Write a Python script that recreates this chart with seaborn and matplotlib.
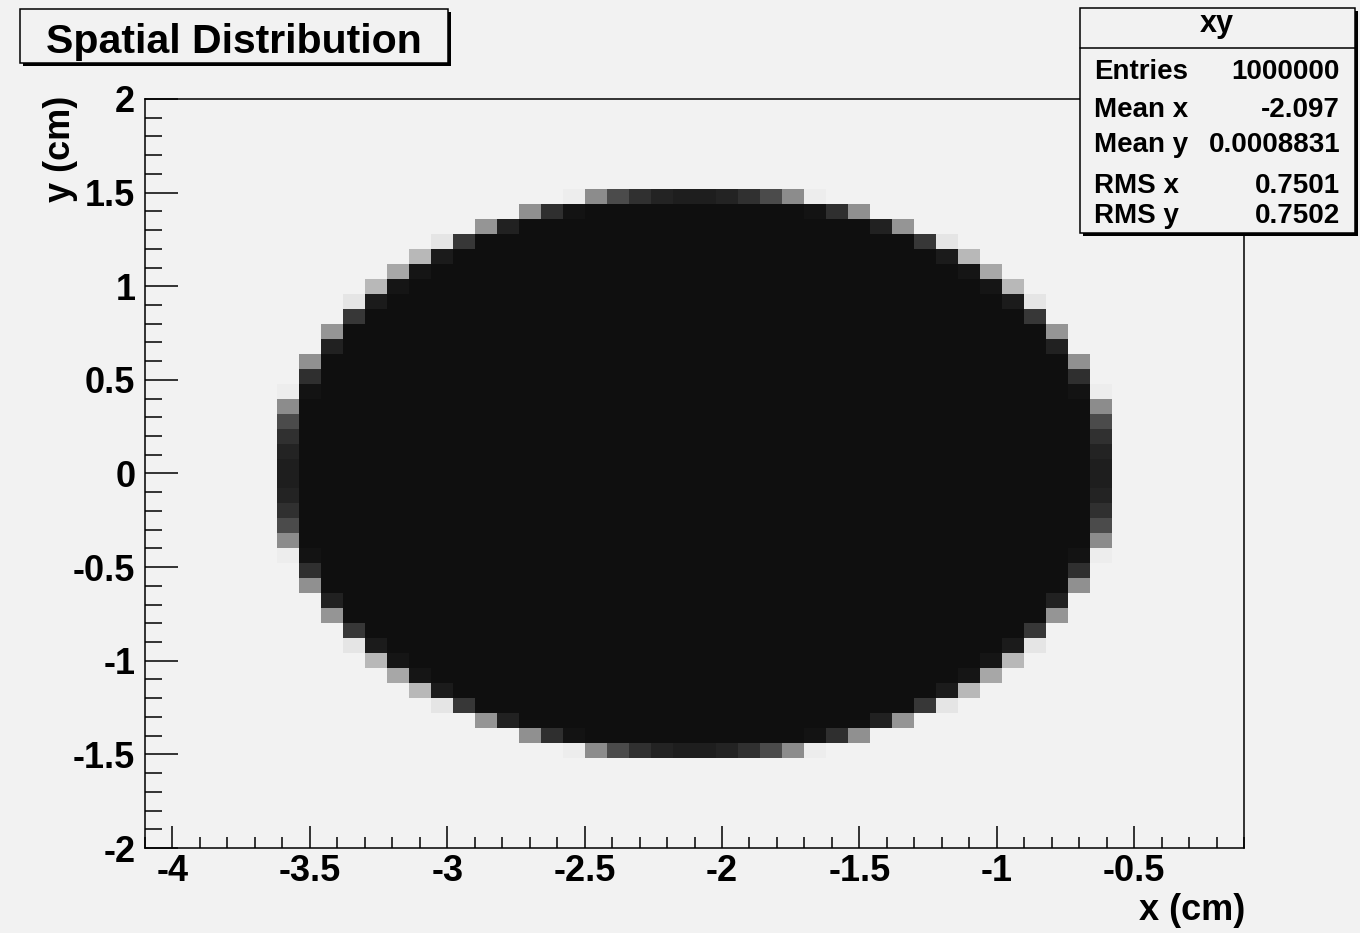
import numpy as np
import pandas as pd
import matplotlib
matplotlib.use("Agg")
import matplotlib.pyplot as plt
import seaborn as sns
from matplotlib.colors import ListedColormap
from matplotlib.patches import Rectangle
from matplotlib.lines import Line2D
from matplotlib.ticker import FixedLocator, FixedFormatter, MultipleLocator

# ---------------- data ----------------
disk_center_x = -2.1
disk_center_y = 0.0
disk_radius = 1.5
n_bins_x = 50
n_bins_y = 50
x_range = (-4.1, -0.1)
y_range = (-2.0, 2.0)

x_ticks = [-4, -3.5, -3, -2.5, -2, -1.5, -1, -0.5]
x_tick_labels = ["-4", "-3.5", "-3", "-2.5", "-2", "-1.5", "-1", "-0.5"]
y_ticks = [-2, -1.5, -1, -0.5, 0, 0.5, 1, 1.5, 2]
y_tick_labels = ["-2", "-1.5", "-1", "-0.5", "0", "0.5", "1", "1.5", "2"]

stats_title = "xy"
stat_names = ["Entries", "Mean x", "Mean y", "RMS x", "RMS y"]
stat_values = ["1000000", "-2.097", "0.0008831", "0.7501", "0.7502"]

plot_title = "Spatial Distribution"
x_label = "x (cm)"
y_label = "y (cm)"

# ---------------- bin contents: fraction of each bin covered by the disk ----------------
x_edges = np.linspace(x_range[0], x_range[1], n_bins_x + 1)
y_edges = np.linspace(y_range[0], y_range[1], n_bins_y + 1)
bw_x = x_edges[1] - x_edges[0]
bw_y = y_edges[1] - y_edges[0]
sub = 24
frac = (np.arange(sub) + 0.5) / sub
rows = []
for i in range(n_bins_x):
    xs = x_edges[i] + frac * bw_x
    for j in range(n_bins_y):
        ys = y_edges[j] + frac * bw_y
        XX, YY = np.meshgrid(xs, ys)
        inside = ((XX - disk_center_x) ** 2 + (YY - disk_center_y) ** 2) <= disk_radius ** 2
        c = inside.mean()
        if c > 0:
            rows.append((x_edges[i] + bw_x / 2, y_edges[j] + bw_y / 2, c))
df = pd.DataFrame(rows, columns=["x", "y", "w"])

# ---------------- styling ----------------
W, H = 1360, 933
BG = "#f2f2f2"
sns.set_theme(style="ticks")
plt.rcParams["font.family"] = ["Liberation Sans", "DejaVu Sans"]
plt.rcParams["font.weight"] = "bold"

def fx(px):
    return px / W

def fy(py):
    return 1 - py / H

fig = plt.figure(figsize=(W / 100, H / 100), dpi=100, facecolor=BG)
ax = fig.add_axes([fx(145), fy(848), (1244 - 145) / W, (848 - 99) / H], facecolor=BG)

# scatter-like darkness: more entries -> darker
bg_level = 0.949
v = np.linspace(0, 1, 256)
g = bg_level * np.exp(-2.8 * v)
cmap = ListedColormap(np.column_stack([g, g, g, np.ones_like(g)]))

sns.histplot(data=df, x="x", y="y", weights="w",
             bins=(n_bins_x, n_bins_y), binrange=(x_range, y_range),
             cmap=cmap, vmin=0, vmax=1, ax=ax, zorder=1)

ax.set_xlim(x_range)
ax.set_ylim(y_range)
ax.set_xlabel("")
ax.set_ylabel("")

for s in ax.spines.values():
    s.set_color("black")
    s.set_linewidth(1.1)
    s.set_visible(True)

ax.xaxis.set_major_locator(FixedLocator(x_ticks))
ax.xaxis.set_major_formatter(FixedFormatter(x_tick_labels))
ax.yaxis.set_major_locator(FixedLocator(y_ticks))
ax.yaxis.set_major_formatter(FixedFormatter(y_tick_labels))
ax.xaxis.set_minor_locator(MultipleLocator(0.1))
ax.yaxis.set_minor_locator(MultipleLocator(0.1))

ax.tick_params(axis="x", which="major", direction="in", length=16, width=1.1,
               pad=4, labelsize=26, colors="black")
ax.tick_params(axis="x", which="minor", direction="in", length=8, width=1.1, colors="black")
ax.tick_params(axis="y", which="major", direction="in", length=24, width=1.1,
               pad=7, labelsize=26, colors="black")
ax.tick_params(axis="y", which="minor", direction="in", length=12, width=1.1, colors="black")
ax.tick_params(top=False, right=False, which="both")
for lab in ax.get_xticklabels() + ax.get_yticklabels():
    lab.set_fontweight("bold")
ax.grid(False)

# axis titles
fig.text(fx(60), fy(96), y_label, rotation=90, ha="center", va="top",
         fontsize=26, fontweight="bold", color="black")
fig.text(fx(1245), fy(910), x_label, ha="right", va="center",
         fontsize=26, fontweight="bold", color="black")

# title box with shadow
def boxed(x0, y0, x1, y1, shadow=3):
    fig.patches.append(Rectangle((fx(x0 + shadow), fy(y1 + shadow)), (x1 - x0) / W, (y1 - y0) / H,
                                 transform=fig.transFigure, facecolor="black",
                                 edgecolor="black", lw=0, zorder=2))
    fig.patches.append(Rectangle((fx(x0), fy(y1)), (x1 - x0) / W, (y1 - y0) / H,
                                 transform=fig.transFigure, facecolor=BG,
                                 edgecolor="black", lw=1.1, zorder=3))

boxed(20, 9, 448, 63)
fig.text(fx(234), fy(53), plot_title, ha="center", va="baseline",
         fontsize=29.5, fontweight="bold", color="black", zorder=4)

# stats box
boxed(1080, 8, 1355, 233)
fig.add_artist(Line2D([fx(1080), fx(1355)], [fy(48), fy(48)], transform=fig.transFigure,
                      color="black", lw=1.1, zorder=4))
fig.text(fx(1217), fy(32), stats_title, ha="center", va="baseline",
         fontsize=22, fontweight="bold", color="black", zorder=4)
stat_baselines = [79, 117, 152, 193, 223]
for name, val, by in zip(stat_names, stat_values, stat_baselines):
    fig.text(fx(1094), fy(by), name, ha="left", va="baseline",
             fontsize=20, fontweight="bold", color="black", zorder=4)
    fig.text(fx(1340), fy(by), val, ha="right", va="baseline",
             fontsize=20, fontweight="bold", color="black", zorder=4)

fig.savefig("out.png", dpi=100, facecolor=BG)
